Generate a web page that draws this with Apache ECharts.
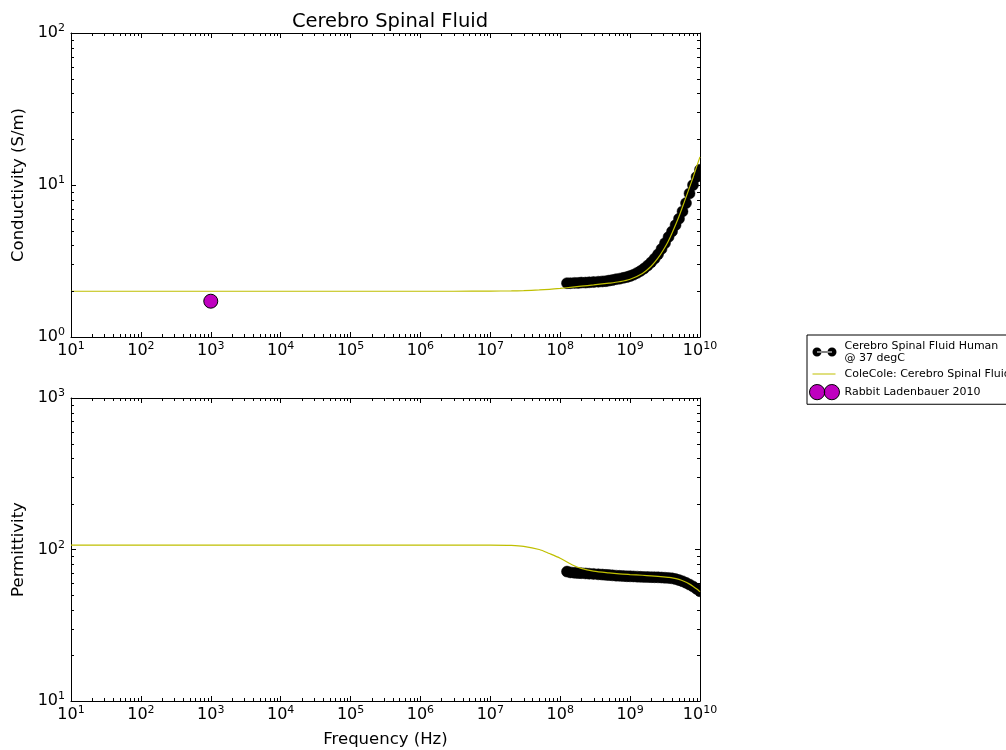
<!DOCTYPE html>
<html>
<head>
<meta charset="utf-8">
<script src="https://cdn.jsdelivr.net/npm/echarts@6/dist/echarts.min.js"></script>
<style>
html,body{margin:0;padding:0;background:#fff;}
#chart{width:1006px;height:750px;}
</style>
</head>
<body>
<div id="chart"></div>
<script>
// ---- Data ----
const titleText = 'Cerebro Spinal Fluid';
const xAxisName = 'Frequency (Hz)';
const yTopName = 'Conductivity (S/m)';
const yBotName = 'Permittivity';
const measName = 'Cerebro Spinal Fluid Human\n@ 37 degC';
const fitName = 'ColeCole: Cerebro Spinal Fluid';
const rabbitName = 'Rabbit Ladenbauer 2010';

// measured frequencies (Hz)
const freqMeas = [1.25e8, 1.4e8, 1.6e8, 1.8e8, 2.0e8, 2.3e8, 2.6e8, 3.0e8, 3.5e8, 4.0e8,
  4.5e8, 5.0e8, 5.6e8, 6.3e8, 7.1e8, 8.0e8, 9.0e8, 1.0e9, 1.12e9, 1.26e9,
  1.41e9, 1.58e9, 1.78e9, 2.0e9, 2.24e9, 2.51e9, 2.82e9, 3.16e9, 3.55e9, 3.98e9,
  4.47e9, 5.01e9, 5.62e9, 6.31e9, 7.08e9, 7.94e9, 8.91e9, 1.0e10];
// measured conductivity (S/m)
const condMeas = [2.26, 2.26, 2.27, 2.27, 2.28, 2.28, 2.29, 2.30, 2.31, 2.32,
  2.33, 2.35, 2.37, 2.40, 2.42, 2.45, 2.48, 2.52, 2.57, 2.64,
  2.72, 2.82, 2.95, 3.10, 3.28, 3.50, 3.80, 4.15, 4.55, 4.95,
  5.45, 6.00, 6.70, 7.60, 8.80, 10.0, 11.3, 12.6];
// measured permittivity
const permMeas = [71.5, 70.6, 70.2, 69.9, 69.8, 69.5, 69.2, 69.0, 68.6, 68.3,
  68.0, 67.8, 67.5, 67.2, 67.0, 66.8, 66.6, 66.5, 66.4, 66.2,
  66.0, 65.9, 65.8, 65.7, 65.6, 65.5, 65.3, 65.1, 64.9, 64.5,
  63.8, 62.8, 61.7, 60.3, 58.7, 57.0, 55.0, 53.0];

// Cole-Cole model curve
const freqFit = [1e1, 1e2, 1e3, 1e4, 1e5, 1e6, 3e6, 1e7, 2e7, 3e7, 5e7, 7e7, 1e8, 1.5e8, 2e8,
  3e8, 5e8, 7e8, 1e9, 1.5e9, 2e9, 2.5e9, 3e9, 3.5e9, 4e9, 5e9, 6e9, 7e9, 8e9, 9e9, 1e10];
const condFit = [2.0, 2.0, 2.0, 2.0, 2.0, 2.0, 2.0, 2.005, 2.01, 2.02, 2.04, 2.06, 2.09, 2.13, 2.16,
  2.20, 2.26, 2.31, 2.40, 2.62, 2.92, 3.30, 3.75, 4.25, 4.85, 6.20, 7.80, 9.50, 11.3, 13.3, 15.3];
const permFit = [107, 107, 107, 107, 107, 107, 107, 107, 106.5, 105, 100, 94, 87.5, 79, 75,
  72, 70, 69, 68.3, 67.6, 67, 66.5, 66, 65.5, 65, 63.5, 61.5, 59.3, 57, 54.8, 52.5];

// Rabbit point
const rabbitFreq = [1e3];
const rabbitCond = [1.72];

// axis ranges
const xMin = 1e1, xMax = 1e10;
const yTopMin = 1, yTopMax = 100;
const yBotMin = 10, yBotMax = 1000;

// ---- helpers ----
function pairs(xs, ys) { return xs.map((x, i) => [x, ys[i]]); }
function minorValues(lo, hi) {
  const out = [];
  for (let d = lo; d < hi; d *= 10) for (let m = 2; m <= 9; m++) out.push(m * d);
  return out;
}
const FONT = 'DejaVu Sans';
const supRich = {
  b: { fontSize: 16, fontFamily: FONT, color: '#000', lineHeight: 20 },
  s: { fontSize: 11, fontFamily: FONT, color: '#000', lineHeight: 20, verticalAlign: 'top' }
};
function powLabel(v) {
  const e = Math.round(Math.log10(v));
  return '{b|10}{s|' + e + '}';
}
const MAJ = 5, MIN = 3;

function xAx(grid, pos, showLabel, name) {
  return {
    type: 'log', logBase: 10, gridIndex: grid, position: pos, min: xMin, max: xMax, interval: 1,
    axisLine: { show: true, onZero: false, lineStyle: { color: '#000', width: 1 } },
    axisTick: { show: true, inside: true, length: MAJ, lineStyle: { color: '#000' } },
    axisLabel: { show: showLabel, formatter: powLabel, rich: supRich, margin: 4 },
    splitLine: { show: false },
    name: name || '', nameLocation: 'middle', nameGap: 30,
    nameTextStyle: { fontSize: 16.5, fontFamily: FONT, color: '#000' }
  };
}
function yAx(grid, pos, mn, mx, showLabel, name) {
  return {
    type: 'log', logBase: 10, gridIndex: grid, position: pos, min: mn, max: mx, interval: 1,
    axisLine: { show: true, onZero: false, lineStyle: { color: '#000', width: 1 } },
    axisTick: { show: true, inside: true, length: MAJ, lineStyle: { color: '#000' } },
    axisLabel: { show: showLabel, formatter: powLabel, rich: supRich, margin: 6 },
    splitLine: { show: false },
    name: name || '', nameLocation: 'middle', nameGap: 44,
    nameTextStyle: { fontSize: 16.5, fontFamily: FONT, color: '#000' }
  };
}

function xMinorSeries(xi, yi, yval) {
  return {
    type: 'custom', xAxisIndex: xi, yAxisIndex: yi, silent: true, clip: false, z: 5,
    data: minorValues(xMin, xMax).map(v => [v, yval]),
    renderItem: function (params, api) {
      const cs = params.coordSys;
      const x = Math.round(api.coord([api.value(0), api.value(1)])[0]) + 0.5;
      const yb = cs.y + cs.height, yt = cs.y;
      return { type: 'group', children: [
        { type: 'line', shape: { x1: x, y1: yb, x2: x, y2: yb - MIN }, style: { stroke: '#000', lineWidth: 1 } },
        { type: 'line', shape: { x1: x, y1: yt, x2: x, y2: yt + MIN }, style: { stroke: '#000', lineWidth: 1 } }
      ] };
    }
  };
}
function yMinorSeries(xi, yi, lo, hi) {
  return {
    type: 'custom', xAxisIndex: xi, yAxisIndex: yi, silent: true, clip: false, z: 5,
    data: minorValues(lo, hi).map(v => [xMin, v]),
    renderItem: function (params, api) {
      const cs = params.coordSys;
      const y = Math.round(api.coord([api.value(0), api.value(1)])[1]) + 0.5;
      const xl = cs.x, xr = cs.x + cs.width;
      return { type: 'group', children: [
        { type: 'line', shape: { x1: xl, y1: y, x2: xl + MIN, y2: y }, style: { stroke: '#000', lineWidth: 1 } },
        { type: 'line', shape: { x1: xr, y1: y, x2: xr - MIN, y2: y }, style: { stroke: '#000', lineWidth: 1 } }
      ] };
    }
  };
}
// clipped circular markers (matplotlib clips markers to the axes box)
function markerSeries(name, xi, yi, data) {
  return {
    name: name, type: 'custom', xAxisIndex: xi, yAxisIndex: yi, clip: true, z: 2,
    itemStyle: { color: '#000' },
    data: data,
    renderItem: function (params, api) {
      const p = api.coord([api.value(0), api.value(1)]);
      return { type: 'circle', shape: { cx: p[0], cy: p[1], r: 5.5 }, style: { fill: '#000', stroke: '#000', lineWidth: 0.5 } };
    }
  };
}

const blackIcon = 'path://M0,0 L0.01,0 Z M30,16 L29.99,16 Z ' +
  'M3,8 A4.5,4.5 0 1,0 12,8 A4.5,4.5 0 1,0 3,8 Z ' +
  'M18,8 A4.5,4.5 0 1,0 27,8 A4.5,4.5 0 1,0 18,8 Z ' +
  'M7.5,7.5 L22.5,7.5 L22.5,8.5 L7.5,8.5 Z';
const lineIcon = 'path://M0,0 L0.01,0 Z M30,16 L29.99,16 Z ' +
  'M3,7.4 L26,7.4 L26,8.6 L3,8.6 Z';
const magentaIcon = 'path://M0,8 A7.5,7.5 0 1,0 15,8 A7.5,7.5 0 1,0 0,8 Z ' +
  'M14.5,8 A7.5,7.5 0 1,0 29.5,8 A7.5,7.5 0 1,0 14.5,8 Z';

const option = {
  backgroundColor: '#fff',
  animation: false,
  title: {
    text: titleText, left: 385, top: 7, textAlign: 'center',
    textStyle: { fontSize: 19.5, fontWeight: 'normal', fontFamily: FONT, color: '#000' }
  },
  grid: [
    { left: 71, top: 33, width: 629, height: 304 },
    { left: 71, top: 398, width: 629, height: 303 }
  ],
  xAxis: [
    xAx(0, 'bottom', true, ''),
    xAx(0, 'top', false, ''),
    xAx(1, 'bottom', true, xAxisName),
    xAx(1, 'top', false, '')
  ],
  yAxis: [
    yAx(0, 'left', yTopMin, yTopMax, true, yTopName),
    yAx(0, 'right', yTopMin, yTopMax, false, ''),
    yAx(1, 'left', yBotMin, yBotMax, true, yBotName),
    yAx(1, 'right', yBotMin, yBotMax, false, '')
  ],
  legend: {
    orient: 'vertical', left: 807, top: 335,
    backgroundColor: '#fff', borderColor: '#000', borderWidth: 1, borderRadius: 0,
    padding: [5, 4, 4, 2],
    itemGap: 2, itemWidth: 30, itemHeight: 16,
    textStyle: { fontSize: 11, fontFamily: FONT, color: '#000', lineHeight: 12 },
    data: [
      { name: measName, icon: blackIcon, itemStyle: { color: '#000', borderWidth: 0 } },
      { name: fitName, icon: lineIcon, itemStyle: { color: '#bfbf00', borderWidth: 0 } },
      { name: rabbitName, icon: magentaIcon, itemStyle: { color: '#bf00bf', borderColor: '#000', borderWidth: 1 } }
    ]
  },
  series: [
    {
      name: measName, type: 'line', xAxisIndex: 0, yAxisIndex: 0,
      data: pairs(freqMeas, condMeas), symbol: 'none',
      itemStyle: { color: '#000' }, lineStyle: { color: '#000', width: 1 }, z: 2
    },
    markerSeries(measName, 0, 0, pairs(freqMeas, condMeas)),
    {
      name: fitName, type: 'line', xAxisIndex: 0, yAxisIndex: 0,
      data: pairs(freqFit, condFit), symbol: 'none', smooth: 0.3,
      itemStyle: { color: '#bfbf00' }, lineStyle: { color: '#bfbf00', width: 1.2 }, z: 3
    },
    {
      name: rabbitName, type: 'scatter', xAxisIndex: 0, yAxisIndex: 0,
      data: pairs(rabbitFreq, rabbitCond), symbol: 'circle', symbolSize: 14,
      itemStyle: { color: '#bf00bf', borderColor: '#000', borderWidth: 1, opacity: 1 }, z: 4
    },
    {
      name: measName, type: 'line', xAxisIndex: 2, yAxisIndex: 2,
      data: pairs(freqMeas, permMeas), symbol: 'none',
      itemStyle: { color: '#000' }, lineStyle: { color: '#000', width: 1 }, z: 2
    },
    markerSeries(measName, 2, 2, pairs(freqMeas, permMeas)),
    {
      name: fitName, type: 'line', xAxisIndex: 2, yAxisIndex: 2,
      data: pairs(freqFit, permFit), symbol: 'none', smooth: 0.3,
      itemStyle: { color: '#bfbf00' }, lineStyle: { color: '#bfbf00', width: 1.2 }, z: 3
    },
    xMinorSeries(0, 0, yTopMin),
    yMinorSeries(0, 0, yTopMin, yTopMax),
    xMinorSeries(2, 2, yBotMin),
    yMinorSeries(2, 2, yBotMin, yBotMax)
  ]
};

const chart = echarts.init(document.getElementById('chart'), null, { renderer: 'canvas' });
chart.setOption(option);
</script>
</body>
</html>
